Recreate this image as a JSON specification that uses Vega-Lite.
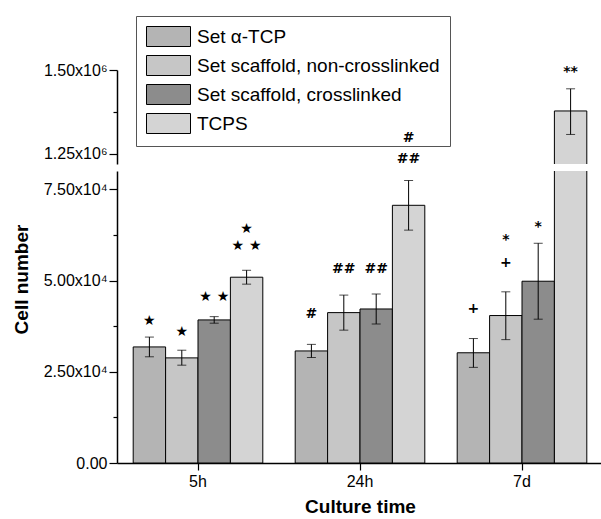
{
  "$schema": "https://vega.github.io/schema/vega-lite/v6.json",
  "padding": {"left": 12, "top": 15, "right": 0, "bottom": 4},
  "background": "white",
  "config": {
    "view": {"stroke": null},
    "font": "Liberation Sans",
    "axis": {
      "domainColor": "black", "domainWidth": 1.5, "tickColor": "black", "tickWidth": 1.2,
      "labelColor": "black", "titleColor": "black", "labelFont": "Liberation Sans", "titleFont": "Liberation Sans",
      "labelFontSize": 16, "titleFontSize": 19, "titleFontWeight": "bold", "grid": false
    }
  },
  "datasets": {
    "bars": [
      {"time": "5h", "series": "Set α-TCP", "value": 31800, "lo": 29100, "hi": 34500},
      {"time": "5h", "series": "Set scaffold, non-crosslinked", "value": 28800, "lo": 26800, "hi": 30900},
      {"time": "5h", "series": "Set scaffold, crosslinked", "value": 39200, "lo": 38300, "hi": 40100},
      {"time": "5h", "series": "TCPS", "value": 50900, "lo": 49000, "hi": 52800},
      {"time": "24h", "series": "Set α-TCP", "value": 30700, "lo": 28900, "hi": 32500},
      {"time": "24h", "series": "Set scaffold, non-crosslinked", "value": 41200, "lo": 36400, "hi": 46000},
      {"time": "24h", "series": "Set scaffold, crosslinked", "value": 42200, "lo": 38100, "hi": 46300},
      {"time": "24h", "series": "TCPS", "value": 70600, "lo": 63800, "hi": 77400},
      {"time": "7d", "series": "Set α-TCP", "value": 30200, "lo": 26200, "hi": 34100},
      {"time": "7d", "series": "Set scaffold, non-crosslinked", "value": 40400, "lo": 33800, "hi": 46900},
      {"time": "7d", "series": "Set scaffold, crosslinked", "value": 49800, "lo": 39400, "hi": 60200},
      {"time": "7d", "series": "TCPS", "value": 1378000, "lo": 1308000, "hi": 1444000}
    ],
    "notes": [
      {"time": "5h", "series": "Set α-TCP", "label": "★", "y": 38900},
      {"time": "5h", "series": "Set scaffold, non-crosslinked", "label": "★", "y": 35900},
      {"time": "5h", "series": "Set scaffold, crosslinked", "label": "★ ★", "y": 45500},
      {"time": "5h", "series": "TCPS", "label": "★", "y": 64000},
      {"time": "5h", "series": "TCPS", "label": "★ ★", "y": 59400},
      {"time": "24h", "series": "Set α-TCP", "label": "#", "y": 40800},
      {"time": "24h", "series": "Set scaffold, non-crosslinked", "label": "##", "y": 53100},
      {"time": "24h", "series": "Set scaffold, crosslinked", "label": "##", "y": 53100},
      {"time": "24h", "series": "TCPS", "label": "#", "y": 89000},
      {"time": "24h", "series": "TCPS", "label": "##", "y": 83200},
      {"time": "7d", "series": "Set α-TCP", "label": "+", "y": 42200},
      {"time": "7d", "series": "Set scaffold, non-crosslinked", "label": "*", "y": 61200},
      {"time": "7d", "series": "Set scaffold, non-crosslinked", "label": "+", "y": 54800},
      {"time": "7d", "series": "Set scaffold, crosslinked", "label": "*", "y": 64700},
      {"time": "7d", "series": "TCPS", "label": "**", "y": 1495000}
    ]
  },
  "spacing": 7,
  "bounds": "flush",
  "resolve": {"legend": {"fill": "independent"}},
  "vconcat": [
    {
      "width": 486,
      "height": 94,
      "encoding": {
        "x": {"field": "time", "type": "nominal", "sort": ["5h", "24h", "7d"], "scale": {"paddingInner": 0.2, "paddingOuter": 0.1}, "axis": null},
        "xOffset": {"field": "series", "type": "nominal", "sort": ["Set α-TCP", "Set scaffold, non-crosslinked", "Set scaffold, crosslinked", "TCPS"], "scale": {"paddingInner": 0, "paddingOuter": 0}}
      },
      "layer": [
        {
          "data": {"name": "bars"},
          "mark": {"type": "bar", "clip": true, "stroke": "black", "strokeWidth": 1},
          "encoding": {
            "y": {"field": "value", "type": "quantitative", "scale": {"domain": [1220000, 1500000], "nice": false, "zero": false},
              "axis": {"title": null, "values": [1250000, 1375000, 1500000], "labelPadding": 2,
                "labelExpr": "datum.value == 1375000 ? '' : format(datum.value / 1000000, '.2f') + 'x10⁶'",
                "tickSize": {"condition": {"test": "datum.value == 1375000", "value": 4}, "value": 8}}},
            "fill": {"field": "series", "type": "nominal",
              "scale": {"domain": ["Set α-TCP", "Set scaffold, non-crosslinked", "Set scaffold, crosslinked", "TCPS"], "range": ["#b4b4b4", "#c6c6c6", "#8c8c8c", "#d4d4d4"]},
              "legend": {"title": null, "orient": "none", "legendX": 19, "legendY": -54, "strokeColor": "#555", "fillColor": "white", "padding": 10,
                "symbolType": "M-2.2,-1H2.2V1H-2.2Z", "symbolSize": 400, "symbolStrokeColor": "black", "symbolStrokeWidth": 1,
                "symbolOffset": 12, "labelOffset": 18, "labelFontSize": 19, "labelFont": "Liberation Sans", "labelColor": "black", "rowPadding": 4, "labelLimit": 400,
                "labelExpr": "datum.label + '\u00a0\u00a0\u00a0\u00a0'"}}
          }
        },
        {
          "data": {"name": "bars"},
          "mark": {"type": "rule", "clip": true, "color": "black", "strokeWidth": 1},
          "encoding": {"y": {"field": "lo", "type": "quantitative", "title": null}, "y2": {"field": "hi"}}
        },
        {
          "data": {"name": "bars"},
          "mark": {"type": "tick", "orient": "horizontal", "clip": true, "color": "black", "size": 9, "thickness": 1},
          "encoding": {"y": {"field": "lo", "type": "quantitative", "title": null}}
        },
        {
          "data": {"name": "bars"},
          "mark": {"type": "tick", "orient": "horizontal", "clip": true, "color": "black", "size": 9, "thickness": 1},
          "encoding": {"y": {"field": "hi", "type": "quantitative", "title": null}}
        },
        {
          "data": {"name": "notes"},
          "transform": [{"filter": "datum.y > 1000000"}],
          "mark": {"type": "text", "font": "DejaVu Sans", "fontSize": 14, "fontWeight": "bold", "baseline": "middle", "fill": "black"},
          "encoding": {"y": {"field": "y", "type": "quantitative", "title": null}, "text": {"field": "label"}}
        }
      ]
    },
    {
      "width": 486,
      "height": 292,
      "encoding": {
        "x": {"field": "time", "type": "nominal", "sort": ["5h", "24h", "7d"], "scale": {"paddingInner": 0.2, "paddingOuter": 0.1},
          "axis": {"title": "Culture time", "labelAngle": 0, "tickSize": 7, "labelPadding": 3, "titlePadding": 8}},
        "xOffset": {"field": "series", "type": "nominal", "sort": ["Set α-TCP", "Set scaffold, non-crosslinked", "Set scaffold, crosslinked", "TCPS"], "scale": {"paddingInner": 0, "paddingOuter": 0}}
      },
      "layer": [
        {
          "data": {"name": "bars"},
          "mark": {"type": "bar", "clip": true, "stroke": "black", "strokeWidth": 1},
          "encoding": {
            "y": {"field": "value", "type": "quantitative", "scale": {"domain": [0, 80000], "nice": false},
              "axis": {"title": "Cell number", "titleY": 108, "titlePadding": 12, "values": [0, 12500, 25000, 37500, 50000, 62500, 75000], "labelPadding": 2,
                "labelExpr": "datum.value == 0 ? '0.00' : (datum.value % 25000 == 0 ? format(datum.value / 10000, '.2f') + 'x10⁴' : '')",
                "tickSize": {"condition": {"test": "datum.value % 25000 != 0", "value": 4}, "value": 8}}},
            "fill": {"field": "series", "type": "nominal",
              "scale": {"domain": ["Set α-TCP", "Set scaffold, non-crosslinked", "Set scaffold, crosslinked", "TCPS"], "range": ["#b4b4b4", "#c6c6c6", "#8c8c8c", "#d4d4d4"]},
              "legend": null}
          }
        },
        {
          "data": {"name": "bars"},
          "mark": {"type": "rule", "clip": true, "color": "black", "strokeWidth": 1},
          "encoding": {"y": {"field": "lo", "type": "quantitative", "title": "Cell number"}, "y2": {"field": "hi"}}
        },
        {
          "data": {"name": "bars"},
          "mark": {"type": "tick", "orient": "horizontal", "clip": true, "color": "black", "size": 9, "thickness": 1},
          "encoding": {"y": {"field": "lo", "type": "quantitative", "title": "Cell number"}}
        },
        {
          "data": {"name": "bars"},
          "mark": {"type": "tick", "orient": "horizontal", "clip": true, "color": "black", "size": 9, "thickness": 1},
          "encoding": {"y": {"field": "hi", "type": "quantitative", "title": "Cell number"}}
        },
        {
          "data": {"name": "notes"},
          "transform": [{"filter": "datum.y < 1000000"}],
          "mark": {"type": "text", "font": "DejaVu Sans", "fontSize": 14, "fontWeight": "bold", "baseline": "middle", "fill": "black"},
          "encoding": {"y": {"field": "y", "type": "quantitative", "title": "Cell number"}, "text": {"field": "label"}}
        }
      ]
    }
  ]
}
